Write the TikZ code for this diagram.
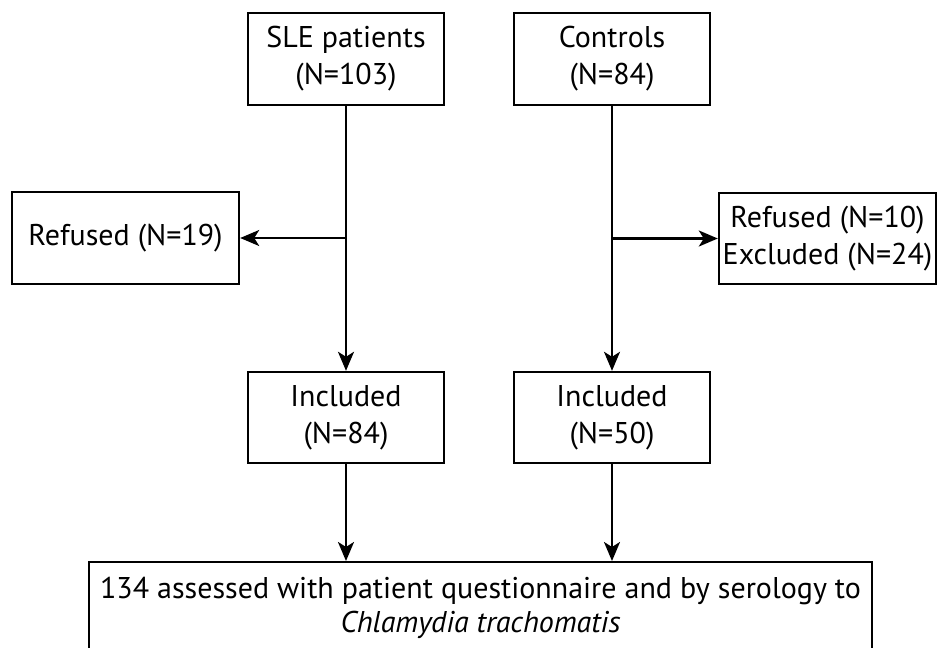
\documentclass[tikz,border=0pt]{standalone}
\usepackage{fontspec}
\setmainfont{PT Sans}
\usetikzlibrary{arrows.meta}
\begin{document}
\begin{tikzpicture}[x=1pt,y=-1pt,
  box/.style={draw,line width=2.4pt,inner sep=0pt,align=center,font=\fontsize{30}{37}\selectfont},
  txt/.style={inner sep=0pt,font=\fontsize{30}{34}\selectfont},
  arr/.style={line width=2.4pt,-{Stealth[length=19pt,width=16pt,inset=5pt]}}]
\useasboundingbox (0,0) rectangle (938,648);
\clip (0,0) rectangle (938,648);
\node[box,minimum width=196pt,minimum height=92pt] (sle) at (346,59) {SLE patients\\(N=103)};
\node[box,minimum width=196pt,minimum height=92pt] (ctl) at (612,59) {Controls\\(N=84)};
\node[box,minimum width=227pt,minimum height=92pt] (refl) at (125.5,238) {Refused (N=19)};
\node[box,minimum width=217pt,minimum height=91pt] (refr) at (827.5,238.5) {Refused (N=10)\\Excluded (N=24)};
\node[box,minimum width=196pt,minimum height=91pt] (incl) at (346,417.5) {Included\\(N=84)};
\node[box,minimum width=196pt,minimum height=91pt] (incr) at (612,417.5) {Included\\(N=50)};
\node[box,minimum width=783pt,minimum height=130pt,anchor=north] (bot) at (480.5,561) {};
\node[txt,anchor=base] (botl1) at (480.5,598) {134 assessed with patient questionnaire and by serology to};
\node[txt,anchor=base] (botl2) at (480.5,632) {\itshape Chlamydia trachomatis};
\coordinate (jl) at (sle.south |- refl.east);
\coordinate (jr) at (ctl.south |- refr.west);
\draw[arr] (sle.south) -- (incl.north);
\draw[arr] (ctl.south) -- (incr.north);
\draw[arr] (jl) -- (refl.east);
\draw[arr] (jr) -- (refr.west);
\draw[arr] (incl.south) -- (incl.south |- bot.north);
\draw[arr] (incr.south) -- (incr.south |- bot.north);
\end{tikzpicture}
\end{document}
